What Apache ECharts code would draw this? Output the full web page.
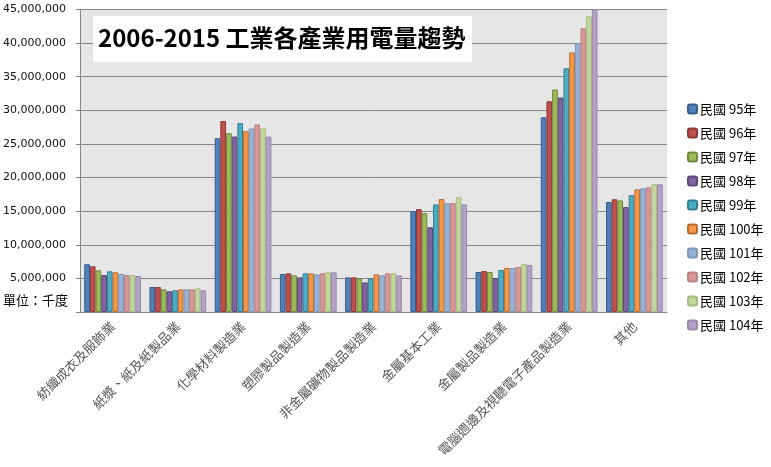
<!DOCTYPE html>
<html>
<head>
<meta charset="utf-8">
<script src="https://cdn.jsdelivr.net/npm/echarts@6/dist/echarts.min.js"></script>
<style>html,body{margin:0;padding:0;background:#fff;}#c{width:771px;height:467px;}</style>
</head>
<body>
<div id="c"></div>
<script>
const categories = ['紡織成衣及服飾業','紙漿、紙及紙製品業','化學材料製造業','塑膠製品製造業','非金屬礦物製品製造業','金屬基本工業','金屬製品製造業','電腦週邊及視聽電子產品製造業','其他'];
const yearNames = ['民國 95年','民國 96年','民國 97年','民國 98年','民國 99年','民國 100年','民國 101年','民國 102年','民國 103年','民國 104年'];
const y95  = [7100000, 3720000, 25850000, 5650000, 5150000, 15000000, 5950000, 28970000, 16370000];
const y96  = [6800000, 3720000, 28400000, 5750000, 5150000, 15300000, 6100000, 31350000, 16770000];
const y97  = [6200000, 3370000, 26600000, 5450000, 5000000, 14700000, 5950000, 33100000, 16600000];
const y98  = [5500000, 3080000, 26100000, 5150000, 4400000, 12600000, 5060000, 31900000, 15600000];
const y99  = [6050000, 3220000, 28100000, 5750000, 5000000, 16000000, 6250000, 36250000, 17370000];
const y100 = [5900000, 3370000, 26900000, 5750000, 5600000, 16800000, 6550000, 38600000, 18260000];
const y101 = [5650000, 3370000, 27300000, 5600000, 5450000, 16200000, 6550000, 39980000, 18400000];
const y102 = [5500000, 3370000, 27900000, 5750000, 5750000, 16200000, 6700000, 42200000, 18550000];
const y103 = [5500000, 3520000, 27300000, 5900000, 5750000, 17100000, 7140000, 44000000, 19000000];
const y104 = [5350000, 3220000, 26100000, 5900000, 5450000, 16000000, 7000000, 45000000, 19000000];
const seriesValues = [y95, y96, y97, y98, y99, y100, y101, y102, y103, y104];
const titleText = '2006-2015 工業各產業用電量趨勢';
const unitText = '單位：千度';

const fills = ['#4F81BD','#C0504D','#9BBB59','#8064A2','#4BACC6','#F79646','#95B3D7','#D99694','#C3D69B','#B3A2C7'];
const borders = ['#385D8A','#8C3836','#71893F','#5C4776','#357D91','#B66D31','#7F96B6','#B88381','#A6B884','#988AA9'];

const chart = echarts.init(document.getElementById('c'), null, {renderer:'canvas'});
chart.setOption({
  animation: false,
  backgroundColor: '#ffffff',
  grid: { left: 80, right: 104, top: 9.5, bottom: 155, show: true, backgroundColor: '#e6e6e6', borderWidth: 0, containLabel: false },
  legend: {
    orient: 'vertical', left: 687, top: 102, padding: 0,
    itemWidth: 9, itemHeight: 9, itemGap: 10,
    textStyle: { fontFamily: 'Noto Sans CJK TC', fontSize: 13, lineHeight: 14, color: '#000', padding: [0,0,0,-2] },
    data: yearNames
  },
  xAxis: {
    type: 'category', data: categories,
    axisLine: { lineStyle: { color: '#868686', width: 1 } },
    axisTick: { show: false },
    axisLabel: { rotate: 45, interval: 0, margin: 12, fontFamily: 'Noto Sans CJK TC', fontSize: 13, color: '#555' }
  },
  yAxis: {
    type: 'value', min: 0, max: 45000000, interval: 5000000,
    axisLine: { show: true, lineStyle: { color: '#868686', width: 1 } },
    axisTick: { show: true, length: 4, lineStyle: { color: '#868686' } },
    splitLine: { lineStyle: { color: '#868686', width: 1 } },
    axisLabel: {
      margin: 14, fontFamily: 'DejaVu Sans', fontSize: 11, color: '#111',
      formatter: v => v === 0 ? '' : v.toLocaleString('en-US')
    }
  },
  series: yearNames.map((n, i) => ({
    name: n, type: 'bar', data: seriesValues[i],
    barGap: '0%', barCategoryGap: '13%',
    itemStyle: { color: fills[i], borderColor: borders[i], borderWidth: 1 }
  })),
  graphic: [
    { type: 'rect', z: 100, shape: { x: 93, y: 16, width: 379, height: 46 }, style: { fill: '#ffffff' } },
    { type: 'text', z: 101, left: 98, top: 26, style: { text: titleText, font: 'bold 24px "Noto Sans CJK TC"', fill: '#000' } },
    { type: 'text', z: 101, left: 3, top: 294, style: { text: unitText, font: '13px "Noto Sans CJK TC"', fill: '#000' } }
  ]
});
</script>
</body>
</html>
